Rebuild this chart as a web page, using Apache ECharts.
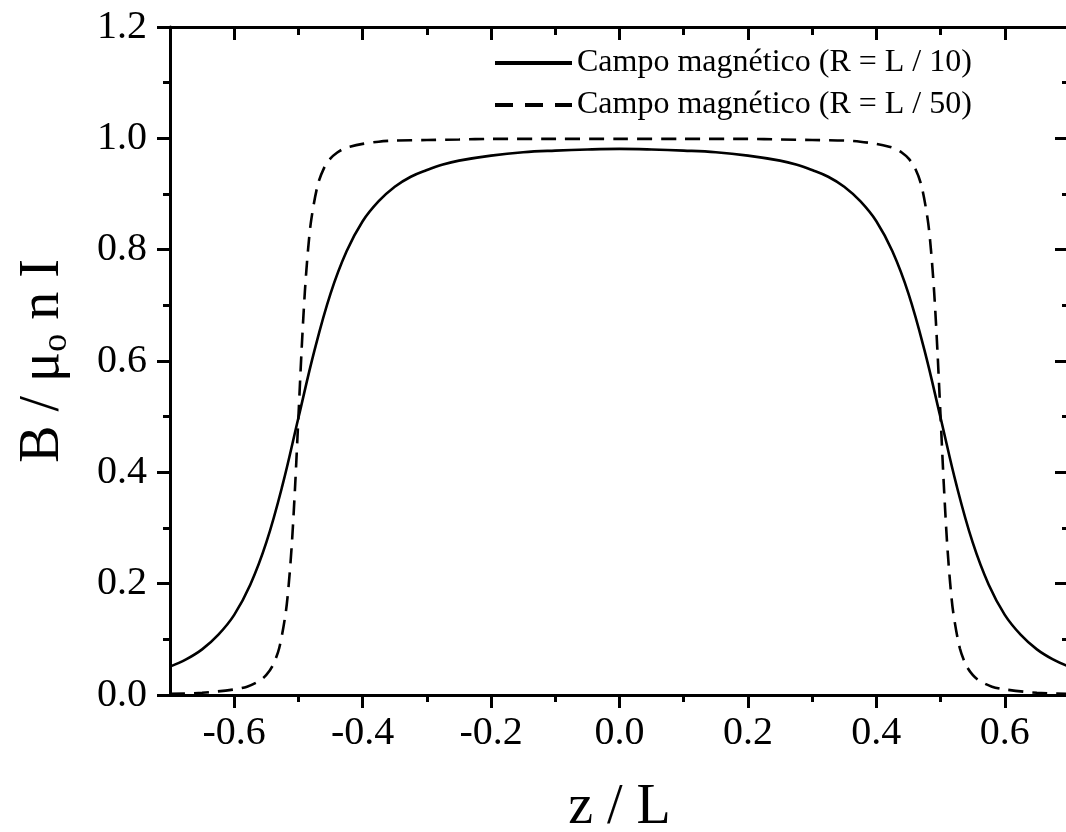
<!DOCTYPE html>
<html>
<head>
<meta charset="utf-8">
<title>Campo magnético</title>
<script src="https://cdn.jsdelivr.net/npm/echarts@6/dist/echarts.min.js"></script>
<style>
  html, body { margin: 0; padding: 0; background: #fff; }
  #chart { width: 1066px; height: 832px; }
</style>
</head>
<body>
<div id="chart"></div>
<script>
// R = L / 10
var zSolid = [-0.70, -0.675, -0.65, -0.625, -0.60, -0.575, -0.55, -0.525, -0.50, -0.475, -0.45, -0.425, -0.40, -0.375, -0.35, -0.325, -0.30, -0.275, -0.25, -0.20, -0.15, -0.10, -0.05,
    0, 0.05, 0.10, 0.15, 0.20, 0.25, 0.275, 0.30, 0.325, 0.35, 0.375, 0.40, 0.425, 0.45, 0.475, 0.50, 0.525, 0.55, 0.575, 0.60, 0.625, 0.65, 0.675, 0.70];
var bSolid = [0.051, 0.064, 0.082, 0.108, 0.144, 0.198, 0.274, 0.376, 0.498, 0.619, 0.721, 0.797, 0.851, 0.887, 0.913, 0.931, 0.943, 0.953, 0.960, 0.969, 0.975, 0.978, 0.980,
    0.981, 0.980, 0.978, 0.975, 0.969, 0.960, 0.953, 0.943, 0.931, 0.913, 0.887, 0.851, 0.797, 0.721, 0.619, 0.498, 0.376, 0.274, 0.198, 0.144, 0.108, 0.082, 0.064, 0.051];

// R = L / 50
var zDashed = [-0.70, -0.65, -0.60, -0.58, -0.56, -0.55, -0.54, -0.53, -0.52, -0.515, -0.51, -0.505, -0.50, -0.495, -0.49, -0.485, -0.48, -0.47, -0.46, -0.45,
    -0.44, -0.43, -0.42, -0.40, -0.375, -0.35, -0.30, -0.25, -0.20, -0.10, 0,
    0.10, 0.20, 0.25, 0.30, 0.35, 0.375, 0.40, 0.42, 0.43, 0.44, 0.45, 0.46, 0.47, 0.48, 0.485, 0.49, 0.495, 0.50, 0.505, 0.51, 0.515, 0.52, 0.53, 0.54,
    0.55, 0.56, 0.58, 0.60, 0.65, 0.70];
var bDashed = [0.002, 0.004, 0.010, 0.015, 0.026, 0.036, 0.053, 0.084, 0.146, 0.200, 0.276, 0.379, 0.500, 0.621, 0.724, 0.800, 0.854, 0.916, 0.947, 0.964,
    0.974, 0.981, 0.985, 0.990, 0.994, 0.996, 0.997, 0.998, 0.999, 0.999, 0.999,
    0.999, 0.999, 0.998, 0.997, 0.996, 0.994, 0.990, 0.985, 0.981, 0.974, 0.964, 0.947, 0.916, 0.854, 0.800, 0.724, 0.621, 0.500, 0.379, 0.276, 0.200, 0.146, 0.084, 0.053,
    0.036, 0.026, 0.015, 0.010, 0.004, 0.002];

var xMajor = [-0.6, -0.4, -0.2, 0.0, 0.2, 0.4, 0.6];
var xMinor = [-0.5, -0.3, -0.1, 0.1, 0.3, 0.5];
var seriesNames = ['Campo magnético (R = L / 10)', 'Campo magnético (R = L / 50)'];

var FONT = 'Liberation Serif';
var black = '#000';

function pairs(xs, ys) {
    return xs.map(function (x, i) { return [x, ys[i]]; });
}

function xAx(pos, ticks, len, inside, main) {
    return {
        type: 'value', position: pos, min: -0.7, max: 0.7, gridIndex: 0,
        axisLine: {show: true, onZero: false, lineStyle: {color: black, width: 3}},
        axisTick: {show: true, customValues: ticks, inside: inside, length: len, lineStyle: {color: black, width: 3}},
        axisLabel: main ? {
            show: true, customValues: xMajor, margin: 18, color: black, fontFamily: FONT, fontSize: 40,
            formatter: function (v) { return v.toFixed(1); }
        } : {show: false},
        splitLine: {show: false},
        name: main ? 'z / L' : '',
        nameLocation: 'middle',
        nameGap: 85,
        nameTextStyle: {color: black, fontFamily: FONT, fontSize: 56}
    };
}

var chart = echarts.init(document.getElementById('chart'));
chart.setOption({
    animation: false,
    backgroundColor: '#fff',
    grid: {left: 170, top: 27, right: -3, bottom: 137, outerBoundsMode: 'none'},
    legend: {
        left: 493, top: 47, orient: 'vertical', padding: 0,
        itemWidth: 77, itemHeight: 30, itemGap: 10,
        selectedMode: false,
        itemStyle: {opacity: 0},
        textStyle: {color: black, fontFamily: FONT, fontSize: 32},
        data: [
            {name: seriesNames[0], lineStyle: {width: 4, type: 'solid'}},
            {name: seriesNames[1], lineStyle: {width: 4, type: [18, 12]}}
        ]
    },
    xAxis: [
        xAx('bottom', xMajor, 13, false, true),
        xAx('bottom', xMinor, 7, false, false),
        xAx('top', xMajor, 13, true, false),
        xAx('top', xMinor, 8, true, false)
    ],
    yAxis: [
        {
            type: 'value', position: 'left', min: 0, max: 1.2, interval: 0.2,
            axisLine: {show: true, onZero: false, lineStyle: {color: black, width: 3}},
            axisTick: {show: true, length: 13, lineStyle: {color: black, width: 3}},
            minorTick: {show: true, splitNumber: 2, length: 7, lineStyle: {color: black, width: 3}},
            axisLabel: {
                margin: 23, color: black, fontFamily: FONT, fontSize: 40,
                formatter: function (v) { return v.toFixed(1); }
            },
            splitLine: {show: false},
            name: '{a|B / μ}{s|o}{a| n I}',
            nameLocation: 'middle',
            nameGap: 95,
            nameTextStyle: {
                color: black, fontFamily: FONT, fontSize: 56,
                rich: {
                    a: {color: black, fontFamily: FONT, fontSize: 56, lineHeight: 60, verticalAlign: 'top'},
                    s: {color: black, fontFamily: FONT, fontSize: 36, lineHeight: 36, padding: [36, 0, 0, 0], verticalAlign: 'bottom'}
                }
            }
        },
        {
            type: 'value', position: 'right', min: 0, max: 1.2, interval: 0.2,
            axisLine: {show: true, onZero: false, lineStyle: {color: black, width: 3}},
            axisTick: {show: true, inside: true, length: 14, lineStyle: {color: black, width: 3}},
            minorTick: {show: true, splitNumber: 2, length: 7, lineStyle: {color: black, width: 3}},
            axisLabel: {show: false},
            splitLine: {show: false}
        }
    ],
    series: [
        {
            name: seriesNames[0], type: 'line', xAxisIndex: 0, yAxisIndex: 0,
            data: pairs(zSolid, bSolid),
            symbol: 'none', smooth: 0.4,
            lineStyle: {color: black, width: 2.6, type: 'solid'},
            itemStyle: {color: black}
        },
        {
            name: seriesNames[1], type: 'line', xAxisIndex: 0, yAxisIndex: 0,
            data: pairs(zDashed, bDashed),
            symbol: 'none', smooth: 0.3,
            lineStyle: {color: black, width: 2.6, type: [15, 9]},
            itemStyle: {color: black}
        }
    ]
});
</script>
</body>
</html>
